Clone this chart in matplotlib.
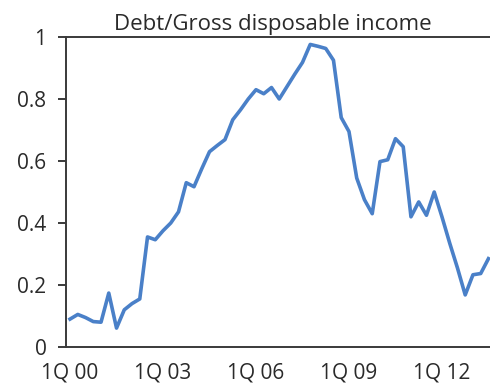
import matplotlib
matplotlib.use("Agg")
import matplotlib.pyplot as plt

plt.rcParams['font.family'] = ['Open Sans', 'DejaVu Sans']

quarters = list(range(55))
debt_ratio = [0.09, 0.105, 0.095, 0.082, 0.08, 0.174, 0.061, 0.12, 0.14, 0.155,
              0.355, 0.346, 0.375, 0.40, 0.436, 0.53, 0.517, 0.575, 0.63, 0.65,
              0.669, 0.733, 0.765, 0.80, 0.83, 0.817, 0.837, 0.80, 0.84, 0.88,
              0.918, 0.976, 0.97, 0.963, 0.925, 0.74, 0.695, 0.545, 0.475, 0.43,
              0.598, 0.604, 0.672, 0.646, 0.42, 0.468, 0.425, 0.50, 0.42, 0.335,
              0.255, 0.168, 0.233, 0.237, 0.285]
xtick_pos = [0, 12, 24, 36, 48]
xtick_labels = ["1Q 00", "1Q 03", "1Q 06", "1Q 09", "1Q 12"]
ytick_vals = [0, 0.2, 0.4, 0.6, 0.8, 1]
ytick_labels = ["0", "0.2", "0.4", "0.6", "0.8", "1"]

fig = plt.figure(figsize=(4.9, 3.89), dpi=100)
ax = fig.add_axes([66/490, 1-347/389, 1-66/490 + 0.02, (347-37)/389])
ax.plot(quarters, debt_ratio, color='#4a80c8', linewidth=2.6, solid_joinstyle='round')
ax.set_xlim(-0.52, 54.2 + 0.02*490/7.75)
ax.set_ylim(0, 1)
ax.set_xticks(xtick_pos)
ax.set_xticklabels(xtick_labels)
ax.set_yticks(ytick_vals)
ax.set_yticklabels(ytick_labels)
for s in ['left', 'bottom', 'top']:
    ax.spines[s].set_color('#3a3a3a')
    ax.spines[s].set_linewidth(1.4)
ax.spines['right'].set_visible(False)
ax.tick_params(axis='y', length=6, width=1.4, color='#3a3a3a', pad=8, labelsize=15, labelcolor='#2a2a2a')
ax.tick_params(axis='x', length=0, pad=11, labelsize=15, labelcolor='#2a2a2a')
ax.set_title("Debt/Gross disposable income", fontsize=16, color='#2a2a2a', pad=5, x=(273-66)/(490-66+0.02*490))
fig.savefig("out.png", dpi=100)
